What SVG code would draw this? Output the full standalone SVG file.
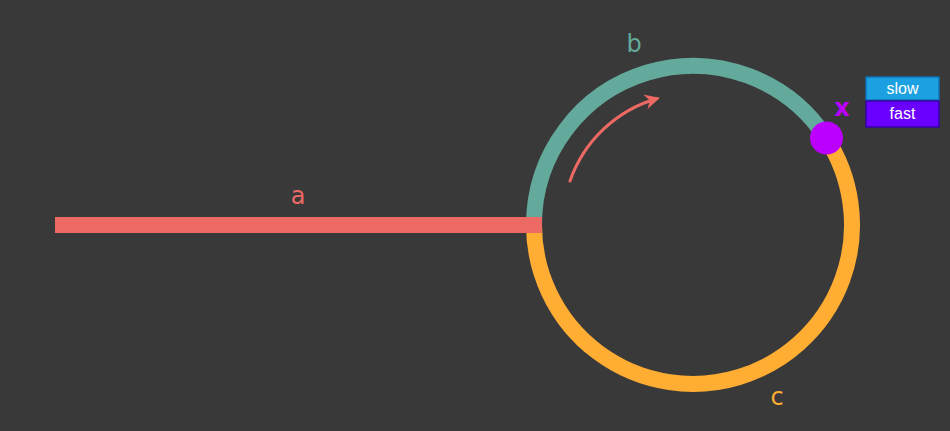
<svg xmlns="http://www.w3.org/2000/svg" width="950" height="431" viewBox="0 0 950 431">
  <style>
    .lbl { font-family: "DejaVu Sans", sans-serif; font-size: 24px; text-anchor: middle; }
    .leg { font-family: "Liberation Sans", Arial, sans-serif; font-size: 16px; fill: #ffffff; text-anchor: middle; }
  </style>
  <defs>
    <marker id="ah" viewBox="0 0 10 10" refX="8" refY="5" markerWidth="5" markerHeight="5" orient="auto" markerUnits="strokeWidth">
      <path d="M0,0 L10,5 L0,10 L3,5 Z" fill="#ec6a63"/>
    </marker>
  </defs>
  <rect x="0" y="0" width="950" height="431" fill="#393939"/>
  <g id="connectors">
    <path id="arc-c" d="M 826.1 137.9 A 159 159 0 1 1 534 225" fill="none" stroke="#ffad33" stroke-width="16"/>
    <path id="arc-b" d="M 534 225 A 159 159 0 0 1 826.1 137.9" fill="none" stroke="#63aa9c" stroke-width="16"/>
    <rect id="line-a" x="55" y="217" width="487" height="16" fill="#ec6a63"/>
    <path id="dir-arrow" d="M 570 181 A 131 131 0 0 1 657 98.5" fill="none" stroke="#ec6a63" stroke-width="3" stroke-linecap="round" marker-end="url(#ah)"/>
  </g>
  <g id="label-a"><text class="lbl" x="298" y="204" fill="#ec6a63">a</text></g>
  <g id="label-b"><text class="lbl" x="634" y="52" fill="#63aa9c">b</text></g>
  <g id="label-c"><text class="lbl" x="777" y="405" fill="#ffad33">c</text></g>
  <g id="node-x">
    <circle cx="826.5" cy="138" r="16.5" fill="#bb00ff"/>
    <text class="lbl" x="842" y="116" fill="#bb00ff" font-weight="bold">x</text>
  </g>
  <g id="legend">
    <rect x="866" y="77" width="73" height="23" fill="#1ba1e2" stroke="#1172b5" stroke-width="1.5"/>
    <text class="leg" x="902.5" y="94">slow</text>
    <rect x="866" y="101" width="73" height="26" fill="#6a00ff" stroke="#3700a6" stroke-width="1.5"/>
    <text class="leg" x="902.5" y="119">fast</text>
  </g>
</svg>
